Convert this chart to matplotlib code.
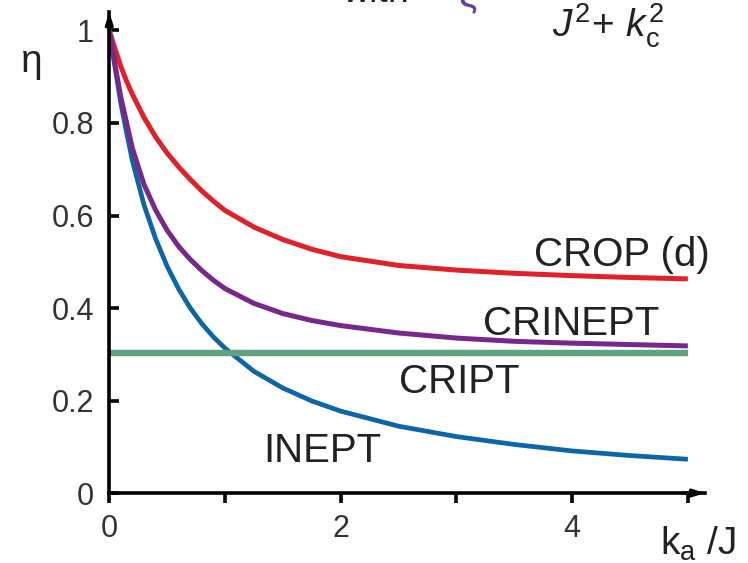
import matplotlib
matplotlib.use("Agg")
import matplotlib.pyplot as plt

plt.rcParams['font.family'] = ['Liberation Sans', 'DejaVu Sans']
plt.rcParams['mathtext.fontset'] = 'custom'
plt.rcParams['mathtext.rm'] = 'Liberation Sans'
plt.rcParams['mathtext.it'] = 'Liberation Sans:italic'

# ---- data ----
ka_over_J = [0, 0.025, 0.05, 0.1, 0.15, 0.2, 0.3, 0.4, 0.5, 0.6, 0.7, 0.8, 0.9, 1.0,
             1.25, 1.5, 1.75, 2.0, 2.5, 3.0, 3.5, 4.0, 4.5, 5.0]
eta_inept = [1.0, 0.961, 0.921, 0.842, 0.779, 0.718, 0.623, 0.55, 0.49, 0.441, 0.4, 0.366,
             0.3375, 0.313, 0.263, 0.227, 0.199, 0.177, 0.1445, 0.122, 0.105, 0.091, 0.081, 0.073]
eta_crinept = [1.0, 0.962, 0.925, 0.855, 0.80, 0.745, 0.667, 0.612, 0.568, 0.533, 0.505, 0.481,
               0.46, 0.442, 0.41, 0.388, 0.373, 0.362, 0.346, 0.335, 0.328, 0.324, 0.321, 0.318]
eta_crop = [1.0, 0.98, 0.96, 0.922, 0.89, 0.862, 0.812, 0.77, 0.735, 0.705, 0.678, 0.653,
            0.631, 0.611, 0.575, 0.548, 0.527, 0.511, 0.492, 0.482, 0.475, 0.47, 0.466, 0.463]
cript_x = [0, 5]
eta_cript = [0.303, 0.303]

x_ticks = [0, 1, 2, 3, 4, 5]
x_ticklabels = ['0', '', '2', '', '4', '']
y_ticks = [0, 0.2, 0.4, 0.6, 0.8, 1.0]
y_ticklabels = ['0', '0.2', '0.4', '0.6', '0.8', '1']

c_red = '#E2202A'
c_purple = '#78288A'
c_blue = '#0A66A8'
c_green = '#5CA283'

fig = plt.figure(figsize=(7.48, 5.63), dpi=100)
ax = fig.add_axes([0.1461, 0.1243, 0.7967, 0.8544])

ax.plot(ka_over_J, eta_crop, color=c_red, lw=3.6, solid_capstyle='butt', zorder=2)
ax.plot(ka_over_J, eta_inept, color=c_blue, lw=3.4, solid_capstyle='butt', zorder=3)
ax.plot(cript_x, eta_cript, color=c_green, lw=4.6, solid_capstyle='butt', zorder=4)
ax.plot(ka_over_J, eta_crinept, color=c_purple, lw=3.6, solid_capstyle='butt', zorder=5)

ax.set_xlim(0, 5.15)
ax.set_ylim(0, 1.04)
for s in ['top', 'right']:
    ax.spines[s].set_visible(False)
for s in ['left', 'bottom']:
    ax.spines[s].set_linewidth(2.6)
    ax.spines[s].set_zorder(6)

ax.set_xticks(x_ticks)
ax.set_xticklabels(x_ticklabels)
ax.set_yticks(y_ticks)
ax.set_yticklabels(y_ticklabels)
ax.tick_params(axis='x', direction='out', length=7, width=2.6, labelsize=22, pad=8,
               labelcolor='#333333')
ax.tick_params(axis='y', direction='in', length=7, width=2.6, labelsize=22, pad=11,
               labelcolor='#333333')

# arrow heads
ax.annotate('', xy=(1.0, 0), xytext=(0.96, 0), xycoords='axes fraction',
            arrowprops=dict(arrowstyle='-|>,head_length=0.7,head_width=0.22',
                            color='k', lw=2.2, shrinkA=0, shrinkB=0), annotation_clip=False)
ax.annotate('', xy=(0, 1.0), xytext=(0, 0.96), xycoords='axes fraction',
            arrowprops=dict(arrowstyle='-|>,head_length=0.7,head_width=0.22',
                            color='k', lw=2.2, shrinkA=0, shrinkB=0), annotation_clip=False)

# curve labels
lab_kw = dict(fontsize=29, color='#222222', ha='left', va='baseline')
ax.text(3.67, 0.491, 'CROP (d)', **lab_kw)
ax.text(3.23, 0.342, 'CRINEPT', **lab_kw)
ax.text(2.50, 0.216, 'CRIPT', **lab_kw)
ax.text(1.33, 0.068, 'INEPT', **lab_kw)

# axis labels
fig.text(32 / 748, 1 - 62 / 563, 'η', fontsize=28, color='#222222', ha='center', va='center')
fig.text(660 / 748, 1 - 555 / 563, r'k$_{\mathregular{a}}$ /J', fontsize=28, color='#222222',
         ha='left', va='baseline')

# partially visible formula at the top
fig.text(342 / 748, 1 - 2 / 563, 'with', fontsize=27, color='#222222', ha='left', va='baseline')
fig.text(458 / 748, 1 - 6 / 563, 'ξ', fontsize=29, color='#6A3AA0', ha='left', va='baseline')
fig.text(552 / 748, 1 - 37 / 563, r'$J^{2}\!+\,k_{\mathrm{c}}^{2}$', fontsize=28, color='#222222',
         ha='left', va='baseline')

fig.savefig('out.png', dpi=100)
